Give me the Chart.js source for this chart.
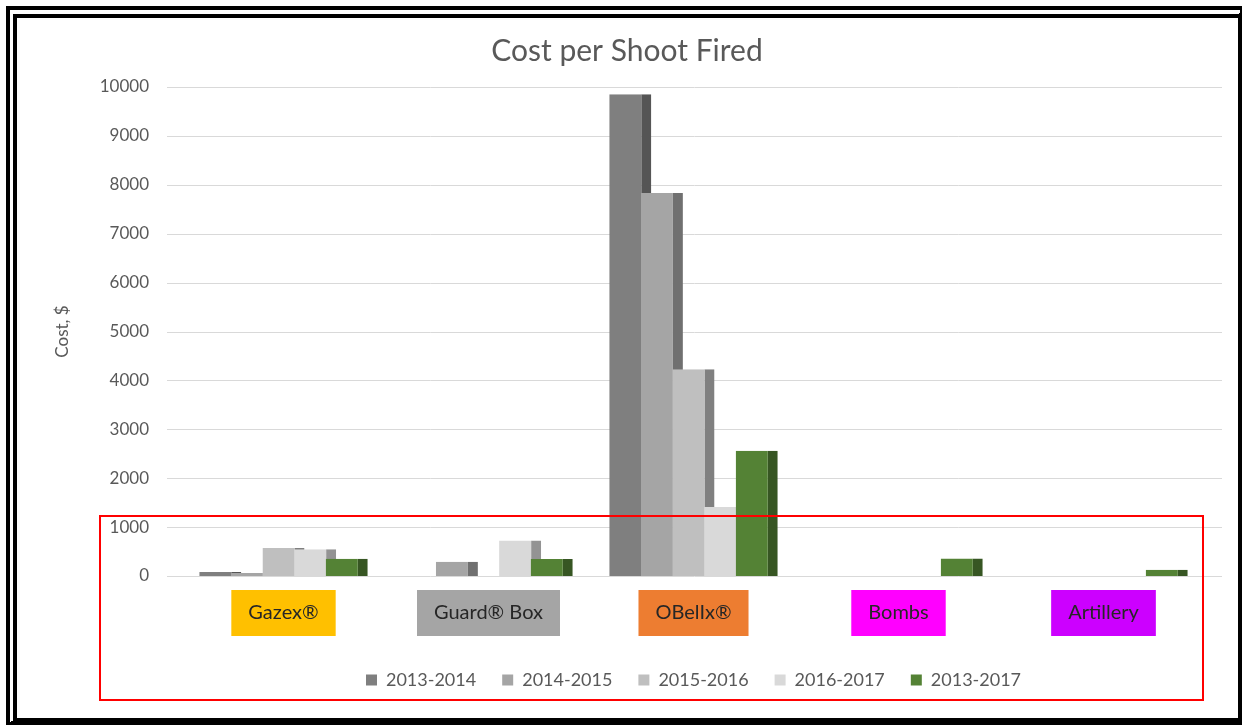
<!DOCTYPE html>
<html>
<head>
<meta charset="utf-8">
<title>Cost per Shoot Fired</title>
<script src="https://cdn.jsdelivr.net/npm/chart.js@4.4.1/dist/chart.umd.min.js"></script>
<style>
  html, body { margin: 0; padding: 0; background: #fff; }
  .wrap { position: relative; width: 1243px; height: 726px; overflow: hidden; }
  .chartbox { position: absolute; left: 0; top: 0; width: 1243px; height: 726px; }
  /* black double frame round the picture */
  .frame {
    position: absolute; left: 6px; top: 6px; right: 1px; bottom: 1px; box-sizing: border-box;
    border-top: 12px double #000; border-left: 11px double #000;
    border-right: 4px solid #000; border-bottom: 7px solid #000;
    pointer-events: none;
  }
  /* red marker rectangle drawn over the lower part */
  .mark {
    position: absolute; left: 99px; top: 515px; width: 1105px; height: 186px; box-sizing: border-box;
    border: 2px solid #f00; pointer-events: none;
  }
</style>
</head>
<body>
<div class="wrap">
  <div class="chartbox"><canvas id="chart"></canvas></div>
  <div class="frame"></div>
  <div class="mark"></div>
</div>
<script>
// data
const categories = ['Gazex®', 'Guard® Box', 'OBelIx®', 'Bombs', 'Artillery'];
const seriesNames = ['2013-2014', '2014-2015', '2015-2016', '2016-2017', '2013-2017'];
const cost2013_2014 = [80, 0, 9850, 0, 0];
const cost2014_2015 = [60, 290, 7830, 0, 0];
const cost2015_2016 = [575, 0, 4230, 0, 0];
const cost2016_2017 = [545, 725, 1410, 0, 0];
const cost2013_2017 = [355, 350, 2560, 360, 130];
const yMin = 0;
const yMax = 10000;
const yStep = 1000;

// styling
const faceColors = ['#7f7f7f', '#a5a5a5', '#bfbfbf', '#d9d9d9', '#548235'];
const sideColors = ['#555555', '#707070', '#808080', '#939393', '#375623'];
const labelColors = ['#ffc000', '#a5a5a5', '#ed7d31', '#ff00ff', '#cc00ff'];
const textGrey = '#595959';

Chart.defaults.font.family = 'Lato, "Open Sans", sans-serif';

const allSeries = [cost2013_2014, cost2014_2015, cost2015_2016, cost2016_2017, cost2013_2017];

// grid lines a bit wider than the plot, then bars left to right
// so every bar hides the dark side strip of the one before it
const barsInOrder = {
    id: 'barsInOrder',
    beforeDatasetsDraw(chart) {
        const { ctx, chartArea, scales } = chart;
        ctx.save();
        ctx.strokeStyle = '#d9d9d9';
        ctx.lineWidth = 1;
        scales.y.ticks.forEach((t) => {
            const y = Math.round(scales.y.getPixelForValue(t.value)) + 0.5;
            ctx.beginPath();
            ctx.moveTo(chartArea.left - 14, y);
            ctx.lineTo(chartArea.right + 16, y);
            ctx.stroke();
        });
        ctx.restore();

        for (let i = 0; i < chart.data.datasets.length; i++) {
            chart.getDatasetMeta(i).controller.draw();
        }
        return false;
    }
};

const datasets = seriesNames.map((name, i) => ({
    label: name,
    data: allSeries[i],
    backgroundColor: faceColors[i],
    borderColor: sideColors[i],
    borderWidth: { top: 0, right: 10, bottom: 0, left: 0 },
    borderSkipped: 'start',
    categoryPercentage: 0.771,
    barPercentage: 1.33,
}));

new Chart(document.getElementById('chart'), {
    type: 'bar',
    data: { labels: categories, datasets },
    plugins: [barsInOrder],
    options: {
        responsive: true,
        maintainAspectRatio: false,
        animation: false,
        layout: { padding: { left: 48, right: 37, top: 0, bottom: 27 } },
        plugins: {
            title: {
                display: true,
                text: 'Cost per Shoot Fired',
                color: textGrey,
                font: { size: 30, weight: 'normal' },
                padding: { top: 33, bottom: 18 },
            },
            legend: {
                position: 'bottom',
                fullSize: false,
                labels: {
                    boxWidth: 11,
                    boxHeight: 11,
                    padding: 26,
                    color: textGrey,
                    font: { size: 18 },
                    generateLabels: (chart) =>
                        Chart.defaults.plugins.legend.labels.generateLabels(chart)
                            .map((item) => Object.assign(item, { lineWidth: 0 })),
                },
            },
            tooltip: { enabled: false },
        },
        scales: {
            x: {
                offset: true,
                grid: { display: false, drawTicks: false },
                border: { display: false },
                ticks: {
                    padding: 25,
                    color: '#262626',
                    font: { size: 20 },
                    autoSkip: false,
                    maxRotation: 0,
                    showLabelBackdrop: true,
                    backdropColor: (c) => labelColors[c.index],
                    backdropPadding: { top: 11, bottom: 11, left: 17, right: 17 },
                },
                afterFit: (s) => { s.height = 69; },
            },
            y: {
                min: yMin,
                max: yMax,
                grid: { display: false, drawTicks: false },
                border: { display: false },
                ticks: {
                    stepSize: yStep,
                    padding: 32,
                    color: textGrey,
                    font: { size: 17 },
                    callback: (v) => String(v),
                },
                title: { display: true, text: 'Cost, $', color: textGrey, font: { size: 17 } },
                afterFit: (s) => { s.width = 133; },
            },
        },
    },
});
</script>
</body>
</html>
